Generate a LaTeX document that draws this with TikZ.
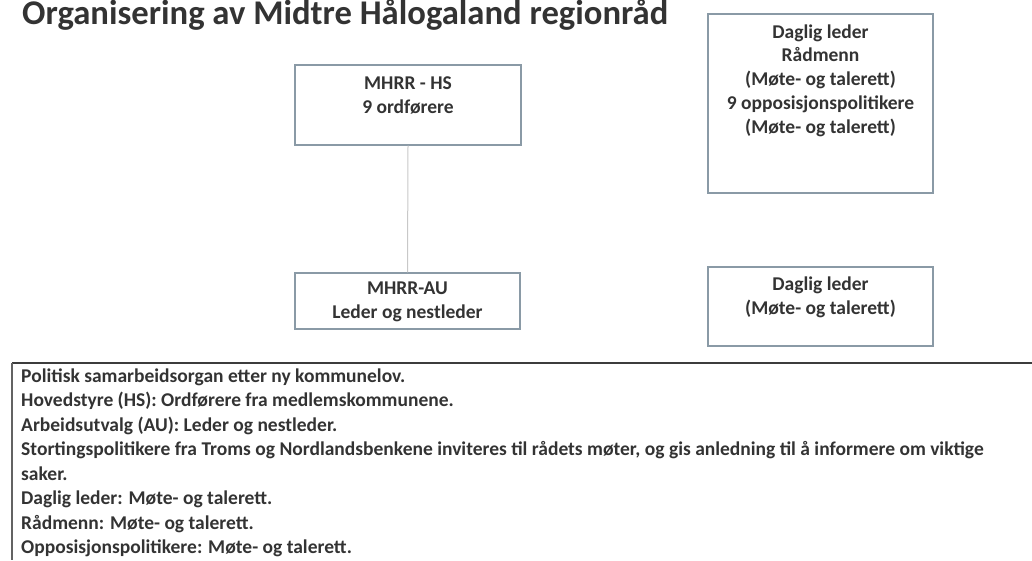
\documentclass[tikz,border=0pt]{standalone}
\usepackage{fontspec}
\setmainfont{Carlito}
\usepackage{graphicx}
\definecolor{txt}{HTML}{333333}
\definecolor{boxline}{HTML}{8A9AA6}
\definecolor{frame}{HTML}{3C3C3C}
\definecolor{conn}{HTML}{C8C8C8}
\begin{document}
\begin{tikzpicture}[x=1pt,y=1pt,
  orgbox/.style={draw=boxline,line width=1.3pt,fill=white,inner sep=0pt},
  boxtext/.style={text=txt,font=\bfseries\fontsize{19.5}{23.7}\selectfont,align=center,inner sep=0pt},
  notetext/.style={text=txt,font=\bfseries\fontsize{19.5}{24.5}\selectfont,align=left,inner sep=0pt,anchor=north west}
]
\useasboundingbox (0,0) rectangle (1032,-560);
% title
\node[anchor=base west,inner sep=0pt,text=txt] (title) at (22,-24)
  {\resizebox{646pt}{!}{\bfseries\fontsize{30}{36}\selectfont Organisering av Midtre Hålogaland regionråd}};
% boxes
\node[orgbox,minimum width=226pt,minimum height=80pt] (hs) at (408,-105) {};
\node[boxtext,anchor=center] (hstext) at (408,-95.5) {MHRR - HS\\9 ordførere};
\node[orgbox,minimum width=225pt,minimum height=56pt] (au) at (407.5,-301) {};
\node[boxtext,anchor=center] (autext) at (407.5,-302) {MHRR-AU\\Leder og nestleder};
\draw[conn,line width=1pt] (hs.south) -- (au.north);
\node[orgbox,minimum width=225pt,minimum height=179pt] (dl1) at (820.5,-103.5) {};
\node[boxtext,anchor=center] (dl1text) at (820.5,-80.5) {Daglig leder\\Rådmenn\\(Møte- og talerett)\\9 opposisjonspolitikere\\(Møte- og talerett)};
\node[orgbox,minimum width=225pt,minimum height=79pt] (dl2) at (820.5,-306.5) {};
\node[boxtext,anchor=center] (dl2text) at (820.5,-297) {Daglig leder\\(Møte- og talerett)};
% bottom note frame
\coordinate (ftl) at (12,-363);
\coordinate (ftr) at (1032,-363);
\coordinate (fbl) at (12,-560);
\draw[frame,line width=2pt] (ftl) -- (ftr);
\draw[frame!80,line width=1.4pt] (ftl) -- (fbl);
\node[notetext] (note) at (21,-368.5) {Politisk samarbeidsorgan etter ny kommunelov.\\
Hovedstyre (HS): Ordførere fra medlemskommunene.\\
Arbeidsutvalg (AU): Leder og nestleder.\\
Stortingspolitikere fra Troms og Nordlandsbenkene inviteres til rådets møter, og gis anledning til å informere om viktige\\
saker.\\
Daglig leder: Møte- og talerett.\\
Rådmenn: Møte- og talerett.\\
Opposisjonspolitikere: Møte- og talerett.};
\end{tikzpicture}
\end{document}
